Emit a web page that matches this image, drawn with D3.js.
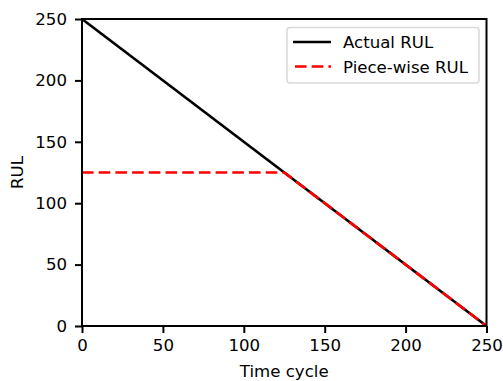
<!DOCTYPE html>
<html><head><meta charset="utf-8">
<script src="https://cdn.jsdelivr.net/npm/d3@7"></script>
<style>body{margin:0;background:#fff}text{font-family:"DejaVu Sans",sans-serif}</style>
</head><body><svg id="c" width="503" height="381"></svg>
<script>
const actualX = [0, 250];
const actualY = [250, 0];
const pieceX = [0, 125, 250];
const pieceY = [125, 125, 0];
const xTicks = [0, 50, 100, 150, 200, 250];
const yTicks = [0, 50, 100, 150, 200, 250];
const seriesNames = ["Actual RUL", "Piece-wise RUL"];

const svg = d3.select("#c");
const L = 82, R = 486.5, T = 19, B = 326;
const x = d3.scaleLinear().domain([0, 250]).range([L, R]);
const y = d3.scaleLinear().domain([0, 250]).range([B, T]);
const fs = "16.6px";
const dash = "11.6,5.1";

const line = d3.line().x(d => x(d[0])).y(d => y(d[1]));
const actual = actualX.map((v, i) => [v, actualY[i]]);
const piece = pieceX.map((v, i) => [v, pieceY[i]]);

svg.append("path").datum(actual).attr("d", line).attr("fill", "none")
  .attr("stroke", "#000").attr("stroke-width", 2.7);
svg.append("path").datum(piece).attr("d", line).attr("fill", "none")
  .attr("stroke", "#ff0000").attr("stroke-width", 2.7).attr("stroke-dasharray", dash);

// frame
svg.append("rect").attr("x", L).attr("y", T).attr("width", R - L).attr("height", B - T)
  .attr("fill", "none").attr("stroke", "#000").attr("stroke-width", 2);

const xa = svg.append("g").attr("transform", `translate(0,${B})`)
  .call(d3.axisBottom(x).tickValues(xTicks).tickSize(7).tickPadding(6).tickFormat(d3.format("d")));
const ya = svg.append("g").attr("transform", `translate(${L},0)`)
  .call(d3.axisLeft(y).tickValues(yTicks).tickSize(7).tickPadding(8).tickFormat(d3.format("d")));
[xa, ya].forEach(g => {
  g.select(".domain").remove();
  g.selectAll("line").attr("stroke", "#000").attr("stroke-width", 2);
  g.selectAll("text").attr("font-size", fs).attr("fill", "#000").style("font-family", "DejaVu Sans");
});

svg.append("text").attr("x", (L + R) / 2).attr("y", 377).attr("text-anchor", "middle")
  .attr("font-size", fs).text("Time cycle");
svg.append("text").attr("transform", `translate(23,${(T + B) / 2}) rotate(-90)`)
  .attr("text-anchor", "middle").attr("font-size", fs).text("RUL");

// legend
const lg = svg.append("g");
lg.append("rect").attr("x", 287).attr("y", 27.5).attr("width", 192).attr("height", 55.5)
  .attr("rx", 3).attr("fill", "#fff").attr("fill-opacity", 0.8).attr("stroke", "#d9d9d9").attr("stroke-width", 1.5);
seriesNames.forEach((n, i) => {
  const yy = 42 + i * 24.5;
  lg.append("line").attr("x1", i === 0 ? 293 : 295).attr("x2", 331).attr("y1", yy).attr("y2", yy)
    .attr("stroke", i === 0 ? "#000" : "#ff0000").attr("stroke-width", 2.7)
    .attr("stroke-dasharray", i === 0 ? null : dash);
  lg.append("text").attr("x", 343).attr("y", yy + 6).attr("font-size", fs).text(n);
});
</script></body></html>
